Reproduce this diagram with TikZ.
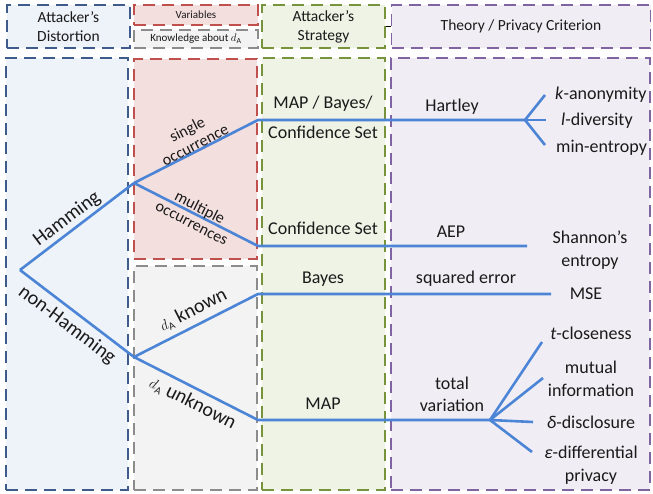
\documentclass[tikz,border=0pt]{standalone}
\usepackage{fontspec}
\setmainfont{Carlito}
\definecolor{blueln}{HTML}{4C84D6}
\definecolor{distB}{HTML}{3F5B8C}
\definecolor{distF}{HTML}{EEF2F9}
\definecolor{varB}{HTML}{C0504D}
\definecolor{varF}{HTML}{F3DFDE}
\definecolor{knowB}{HTML}{8C8C8C}
\definecolor{knowF}{HTML}{F3F3F3}
\definecolor{stratB}{HTML}{77933C}
\definecolor{stratF}{HTML}{EEF3E5}
\definecolor{theoB}{HTML}{8064A2}
\definecolor{theoF}{HTML}{F0EEF4}
\definecolor{txt}{HTML}{1A1A1A}
\newcommand{\dAsmall}{{\fontsize{15}{15}\selectfont$d_{\mathrm{A}}$}}
\tikzset{
  box/.style={rectangle, inner sep=0pt, line width=1.3pt, dash pattern=on 12pt off 7pt},
  hdr/.style={font=\fontsize{15.5}{19}\selectfont, align=center, text=txt},
  small/.style={font=\fontsize{11}{13}\selectfont, align=center, text=txt},
  lbl/.style={font=\fontsize{18}{22.5}\selectfont, align=center, text=txt, inner sep=0pt},
  diag/.style={font=\fontsize{20}{22}\selectfont, align=center, text=txt, inner sep=0pt},
  occ/.style={font=\fontsize{16}{17.5}\selectfont, align=center, text=txt, inner sep=0pt},
  branch/.style={draw=blueln, line width=2.6pt, line join=round},
}
\begin{document}
\begin{tikzpicture}[x=1pt,y=-1pt]
\useasboundingbox (0,0) rectangle (653,494);
% header boxes
\node[box, draw=distB, fill=distF, minimum width=123pt, minimum height=43pt] (hdist) at (68.5,26.5) {};
\node[box, draw=varB, fill=varF, minimum width=124pt, minimum height=20pt] (hvar) at (196,15) {};
\node[box, draw=knowB, fill=knowF, minimum width=124pt, minimum height=18pt] (hknow) at (196,39) {};
\node[box, draw=stratB, fill=stratF, minimum width=123pt, minimum height=43pt] (hstrat) at (323.5,26.5) {};
\node[box, draw=theoB, fill=theoF, minimum width=259pt, minimum height=43pt] (htheo) at (521,26.5) {};
\draw[line width=0.8pt] (hstrat.east) -- (htheo.west);
\node[hdr] (thdist) at (hdist) {Attacker’s\\Distortion};
\node[small] (thvar) at (hvar) {Variables};
\node[small] (thknow) at (hknow) {Knowledge about $d_{\mathrm{A}}$};
\node[hdr] (thstrat) at (hstrat) {Attacker’s\\Strategy};
\node[hdr] (ththeo) at (htheo) {Theory / Privacy Criterion};
% main boxes
\node[box, draw=distB, fill=distF, minimum width=122pt, minimum height=432pt] (mdist) at (67,274) {};
\node[box, draw=varB, fill=varF, minimum width=123pt, minimum height=200pt] (mvar) at (195.5,159) {};
\node[box, draw=knowB, fill=knowF, minimum width=123pt, minimum height=224pt] (mknow) at (195.5,378) {};
\node[box, draw=stratB, fill=stratF, minimum width=123pt, minimum height=432pt] (mstrat) at (323.5,274) {};
\node[box, draw=theoB, fill=theoF, minimum width=259pt, minimum height=432pt] (mtheo) at (520.5,274) {};
% tree points
\coordinate (root) at (20,270);
\coordinate (ham) at (134,183);
\coordinate (nham) at (134,357);
\coordinate (s1) at (258,120);
\coordinate (s1e) at (525,120);
\coordinate (f1) at (545,95);
\coordinate (f2) at (546,120);
\coordinate (f3) at (545,145);
\coordinate (m1) at (258,246);
\coordinate (m1e) at (527,246);
\coordinate (k1) at (258,294);
\coordinate (k1e) at (551,294);
\coordinate (u1) at (258,420);
\coordinate (u1e) at (490,420);
\coordinate (g1) at (542,342);
\coordinate (g2) at (543,378);
\coordinate (g3) at (533,422);
\coordinate (g4) at (532,452);
% branches
\draw[branch] (root) -- (ham);
\draw[branch] (root) -- (nham);
\draw[branch] (ham) -- (s1) -- (s1e);
\draw[branch] (s1e) -- (f1);
\draw[branch] (s1e) -- (f2);
\draw[branch] (s1e) -- (f3);
\draw[branch] (ham) -- (m1) -- (m1e);
\draw[branch] (nham) -- (k1) -- (k1e);
\draw[branch] (nham) -- (u1) -- (u1e);
\draw[branch] (u1e) -- (g1);
\draw[branch] (u1e) -- (g2);
\draw[branch] (u1e) -- (g3);
\draw[branch] (u1e) -- (g4);
% diagonal labels
\node[diag, rotate=37] (lham) at (67,219) {Hamming};
\node[diag, rotate=-37] (lnham) at (67,325) {non-Hamming};
\node[occ, rotate=27] (lsingle) at (191,137) {single\\occurrence};
\node[occ, rotate=-27] (lmult) at (196,215) {multiple\\occurrences};
\node[diag, rotate=27] (lknown) at (193,310) {\dAsmall\ known};
\node[diag, rotate=-27] (lunknown) at (193,403) {\dAsmall\ unknown};
% strategy labels
\node[lbl] (tmap1) at (323,104) {MAP / Bayes/};
\node[lbl] (tmap2) at (323,132) {Confidence Set};
\node[lbl] (tconf) at (323,228) {Confidence Set};
\node[lbl] (tbayes) at (323,279) {Bayes};
\node[lbl] (tmap) at (323,404) {MAP};
% theory labels
\node[lbl] (thart) at (452,107) {Hartley};
\node[lbl] (taep) at (451,232) {AEP};
\node[lbl] (tsq) at (466,279) {squared error};
\node[lbl] (ttv) at (452,394.5) {total\\variation};
% criteria
\node[lbl, anchor=west] (tkan) at (555,95) {\textit{k}-anonymity};
\node[lbl, anchor=west] (tldiv) at (561,121) {\textit{l}-diversity};
\node[lbl, anchor=west] (tmin) at (556,148) {min-entropy};
\node[lbl] (tshan) at (590,250) {Shannon’s\\entropy};
\node[lbl] (tmse) at (586,294) {MSE};
\node[lbl] (tclose) at (591,333) {\textit{t}-closeness};
\node[lbl] (tmut) at (591,379) {mutual\\information};
\node[lbl] (tdelta) at (591,422) {\textit{δ}-disclosure};
\node[lbl] (teps) at (591,465) {\textit{ε}-differential\\privacy};
\end{tikzpicture}
\end{document}
